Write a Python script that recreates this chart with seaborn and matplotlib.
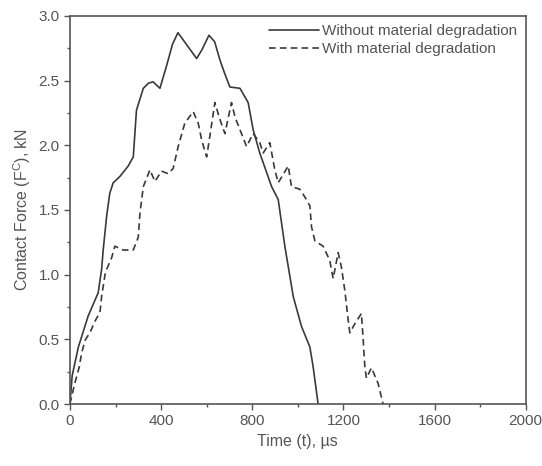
import numpy as np
import pandas as pd
import matplotlib
matplotlib.use("Agg")
import matplotlib.pyplot as plt
from matplotlib.ticker import MultipleLocator
import seaborn as sns

# time (us) and contact force (kN)
t_without = [0, 10, 37, 80, 124, 139, 146, 161, 175, 190, 220, 256, 278, 292, 322,
             345, 365, 395, 425, 450, 474, 515, 556, 580, 610, 635, 658, 680, 702,
             746, 782, 804, 833, 885, 914, 943, 980, 1016, 1053, 1067, 1089]
f_without = [0.0, 0.22, 0.44, 0.68, 0.86, 1.04, 1.19, 1.45, 1.63, 1.71, 1.76, 1.84,
             1.91, 2.27, 2.44, 2.48, 2.49, 2.44, 2.62, 2.78, 2.87, 2.77, 2.67, 2.74,
             2.85, 2.80, 2.66, 2.55, 2.45, 2.44, 2.33, 2.12, 1.94, 1.68, 1.58, 1.22,
             0.83, 0.60, 0.44, 0.29, 0.0]

t_with = [0, 20, 40, 51, 66, 90, 110, 132, 139, 154, 161, 183, 197, 234, 278, 300,
          307, 322, 351, 373, 402, 431, 453, 475, 504, 541, 563, 578, 600, 614, 636,
          658, 680, 709, 724, 746, 775, 804, 833, 848, 877, 899, 914, 958, 972, 1009,
          1038, 1053, 1060, 1075, 1111, 1140, 1155, 1177, 1191, 1206, 1221, 1228,
          1250, 1279, 1287, 1294, 1301, 1323, 1352, 1374]
f_with = [0.0, 0.15, 0.28, 0.39, 0.49, 0.56, 0.64, 0.71, 0.83, 1.0, 1.04, 1.13,
          1.22, 1.19, 1.19, 1.29, 1.47, 1.68, 1.81, 1.72, 1.80, 1.78, 1.82, 1.99,
          2.17, 2.26, 2.17, 2.04, 1.91, 2.07, 2.33, 2.20, 2.09, 2.33, 2.22, 2.12,
          1.99, 2.09, 2.02, 1.94, 2.02, 1.81, 1.71, 1.84, 1.68, 1.66, 1.58, 1.53,
          1.37, 1.26, 1.22, 1.11, 0.97, 1.17, 1.06, 0.88, 0.65, 0.55, 0.62, 0.70,
          0.49, 0.29, 0.20, 0.28, 0.16, 0.0]

labels = ["Without material degradation", "With material degradation"]
x_ticks = [0, 400, 800, 1200, 1600, 2000]
y_ticks = [0.0, 0.5, 1.0, 1.5, 2.0, 2.5, 3.0]

df = pd.concat([
    pd.DataFrame({"t": t_without, "F": f_without, "case": labels[0]}),
    pd.DataFrame({"t": t_with, "F": f_with, "case": labels[1]}),
])

sns.set_style("ticks")
plt.rcParams["font.family"] = ["Liberation Sans", "DejaVu Sans"]
plt.rcParams["mathtext.fontset"] = "custom"
plt.rcParams["mathtext.rm"] = "Liberation Sans"

fig = plt.figure(figsize=(5.42, 4.66), dpi=100)
ax = fig.add_axes([0.129, 0.133, 0.841, 0.833])

line_col = "#3a3a3a"
sns.lineplot(data=df, x="t", y="F", hue="case", style="case",
             palette=[line_col, line_col], dashes=[(None, None), (4, 2.5)],
             linewidth=1.2, sort=False, legend=True, ax=ax)

ax.set_xlim(0, 2000)
ax.set_ylim(0, 3.0)
ax.set_xticks(x_ticks)
ax.set_xticklabels([str(v) for v in x_ticks])
ax.set_yticks(y_ticks)
ax.set_yticklabels([f"{v:.1f}" for v in y_ticks])
ax.xaxis.set_minor_locator(MultipleLocator(200))
ax.yaxis.set_minor_locator(MultipleLocator(0.25))

for sp in ax.spines.values():
    sp.set_color("#555555")
    sp.set_linewidth(1.2)
ax.tick_params(which="both", direction="out", colors="#555555", labelcolor="#555555",
               labelsize=11)
ax.tick_params(which="major", length=4, width=1)
ax.tick_params(which="minor", length=2.5, width=1)

ax.set_xlabel("Time (t), \u00b5s", fontsize=11.5, color="#555555")
ax.set_ylabel(r"Contact Force (F$^{\rm C}$), kN", fontsize=11.5, color="#555555")

leg = ax.legend(title=None, loc="upper right", frameon=False, fontsize=11,
                handlelength=3.3, handletextpad=0.2, borderaxespad=0.15,
                labelspacing=0.25)
for txt in leg.get_texts():
    txt.set_color("#555555")

fig.savefig("out.png", dpi=100)
